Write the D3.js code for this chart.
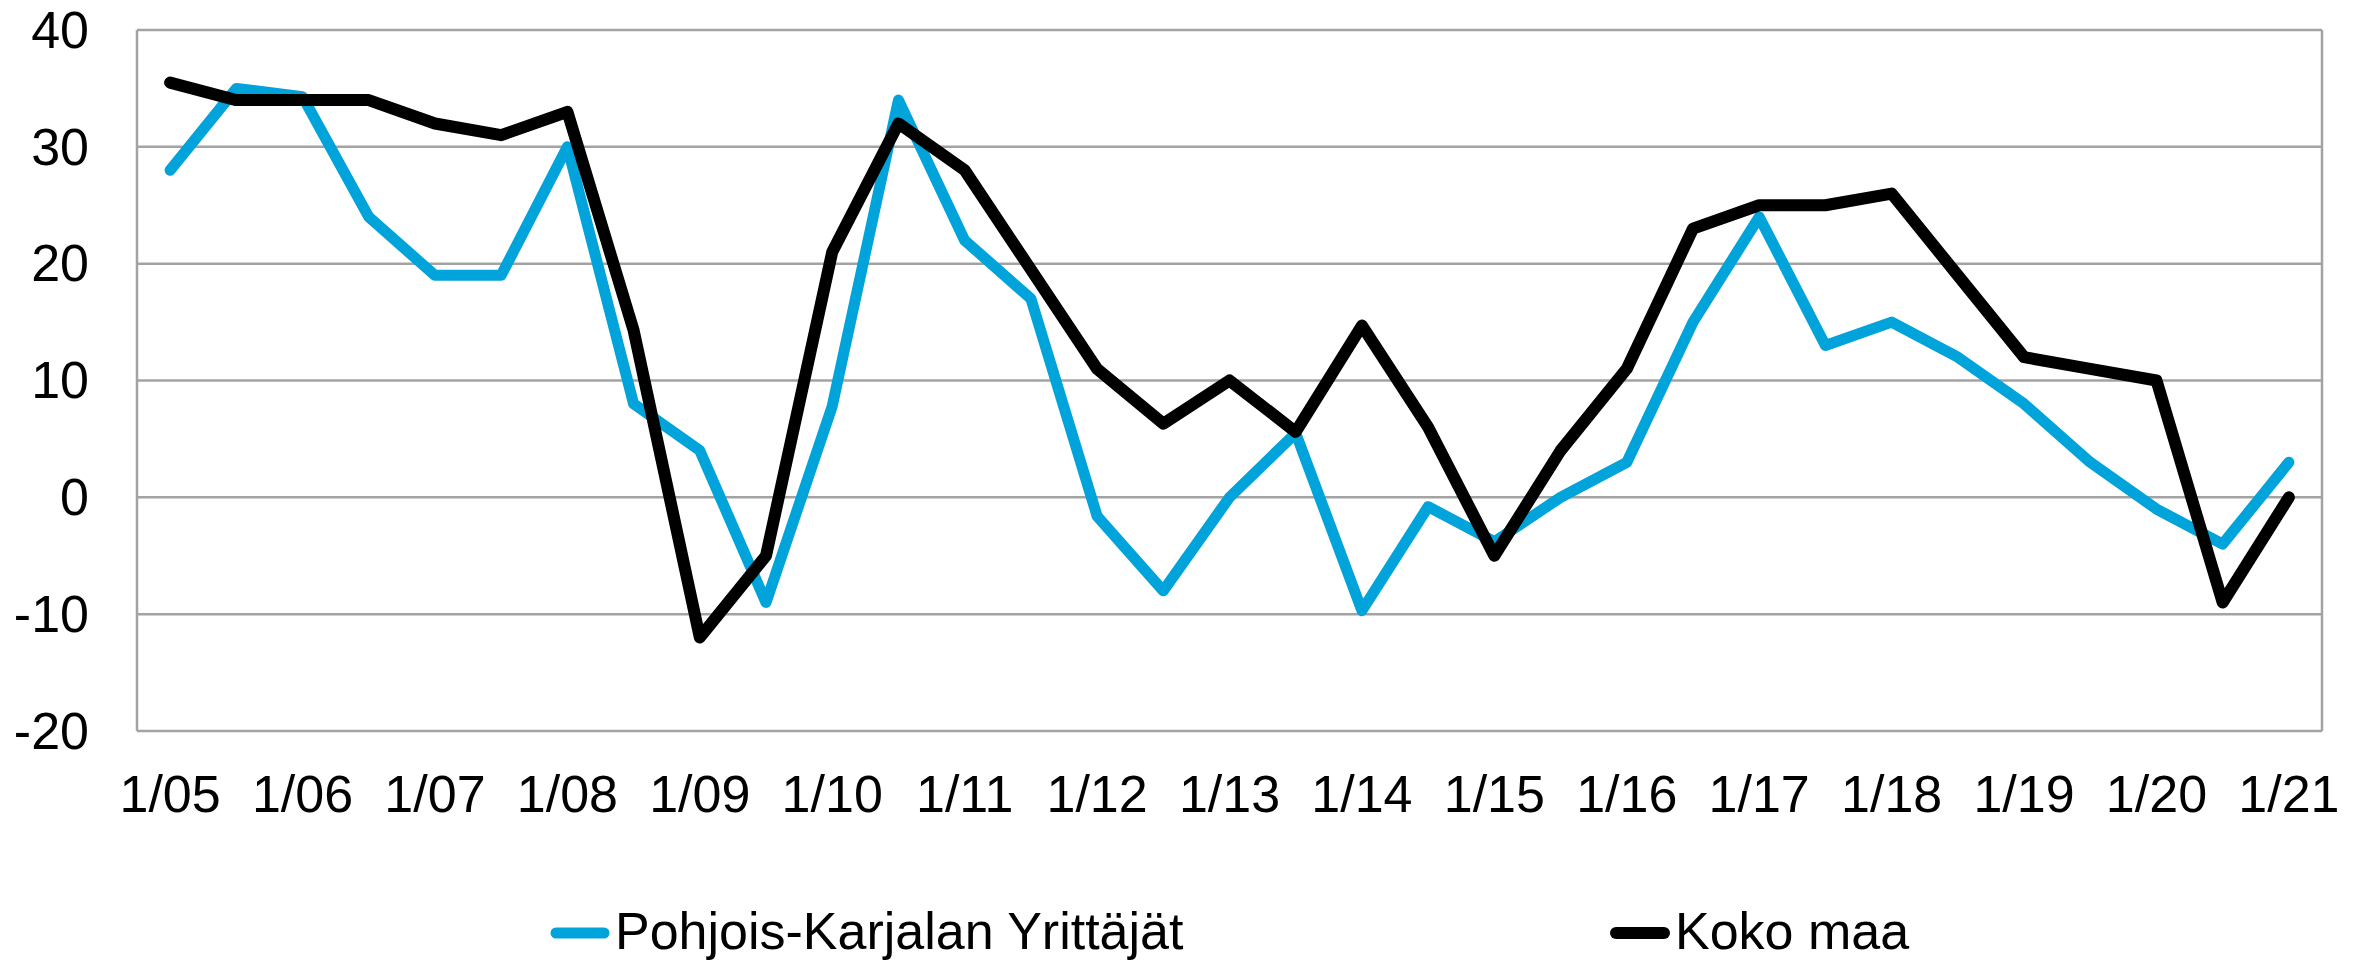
<!DOCTYPE html>
<html>
<head>
<meta charset="utf-8">
<script src="https://cdn.jsdelivr.net/npm/d3@7"></script>
<style>
  html, body { margin: 0; padding: 0; background: #fff; }
  svg { display: block; font-family: "Liberation Sans", Arial, sans-serif; }
  .grid line { stroke: #a3a3a3; stroke-width: 2.5; }
  .axis text { font-size: 52px; fill: #000; }
  .axis path, .axis line { display: none; }
  .series { fill: none; stroke-linecap: round; stroke-linejoin: round; }
</style>
</head>
<body>
<svg id="chart" width="2361" height="960"></svg>
<script>
// half-year observations, 1/05 ... 1/21
const periods = [
  "1/05","7/05","1/06","7/06","1/07","7/07","1/08","7/08","1/09","7/09",
  "1/10","7/10","1/11","7/11","1/12","7/12","1/13","7/13","1/14","7/14",
  "1/15","7/15","1/16","7/16","1/17","7/17","1/18","7/18","1/19","7/19",
  "1/20","7/20","1/21"
];
const pohjoisKarjala = [
  28, 35, 34.3, 24, 19, 19, 30, 8, 4, -9,
  7.8, 34, 22, 17, -1.6, -8, 0, 5.5, -9.7, -0.8,
  -3.8, 0, 3, 15, 24, 13, 15, 12, 8, 3,
  -1, -4, 3
];
const kokoMaa = [
  35.5, 34, 34, 34, 32, 31, 33, 14.3, -12, -5,
  21, 32, 28, 19.5, 11, 6.3, 10, 5.6, 14.7, 6,
  -5, 4, 11, 23, 25, 25, 26, 19, 12, 11,
  10, -9, 0
];
const yTicks = [-20, -10, 0, 10, 20, 30, 40];
const seriesNames = ["Pohjois-Karjalan Yrittäjät", "Koko maa"];
const seriesColors = ["#00a3da", "#000000"];

const MARGIN = { top: 30, left: 137, right: 2322, bottom: 731 };

const svg = d3.select("#chart");

const x = d3.scaleBand().domain(periods).range([MARGIN.left, MARGIN.right]);
const xc = p => x(p) + x.bandwidth() / 2;
const y = d3.scaleLinear().domain([-20, 40]).range([MARGIN.bottom, MARGIN.top]);

// gridlines
svg.append("g").attr("class", "grid")
  .selectAll("line")
  .data(yTicks)
  .join("line")
  .attr("x1", MARGIN.left).attr("x2", MARGIN.right)
  .attr("y1", d => y(d)).attr("y2", d => y(d));

// plot frame sides
svg.append("g").attr("class", "grid")
  .selectAll("line")
  .data([MARGIN.left, MARGIN.right])
  .join("line")
  .attr("x1", d => d).attr("x2", d => d)
  .attr("y1", MARGIN.top).attr("y2", MARGIN.bottom);

// y axis (plain hyphen for negatives, like the source)
svg.append("g")
  .attr("class", "axis y")
  .attr("transform", `translate(${MARGIN.left},0)`)
  .call(d3.axisLeft(y).tickValues(yTicks).tickFormat(d => String(d)).tickSize(0).tickPadding(48))
  .selectAll("text").attr("dy", "0.33em");

// x axis, labels only at January
svg.append("g")
  .attr("class", "axis x")
  .attr("transform", `translate(0,${MARGIN.bottom})`)
  .call(d3.axisBottom(x).tickValues(periods.filter(p => p.startsWith("1/"))).tickSize(0).tickPadding(44))
  .selectAll("text").attr("dy", "0.71em");

// lines
const line = d3.line()
  .x((d, i) => xc(periods[i]))
  .y(d => y(d));

const data = [pohjoisKarjala, kokoMaa];
const widths = [11, 12];

svg.append("g")
  .selectAll("path")
  .data(data)
  .join("path")
  .attr("class", "series")
  .attr("stroke", (d, i) => seriesColors[i])
  .attr("stroke-width", (d, i) => widths[i])
  .attr("d", d => line(d));

// legend
const legendX = [551, 1611];
const legend = svg.append("g").attr("class", "legend")
  .selectAll("g")
  .data(seriesNames)
  .join("g")
  .attr("transform", (d, i) => `translate(${legendX[i]},933)`);

legend.append("line")
  .attr("x1", 5).attr("x2", 53)
  .attr("y1", 0).attr("y2", 0)
  .attr("stroke", (d, i) => seriesColors[i])
  .attr("stroke-width", (d, i) => widths[i])
  .attr("stroke-linecap", "round");

legend.append("text")
  .attr("x", 64)
  .attr("y", 16)
  .attr("font-size", 52)
  .text(d => d);
</script>
</body>
</html>
